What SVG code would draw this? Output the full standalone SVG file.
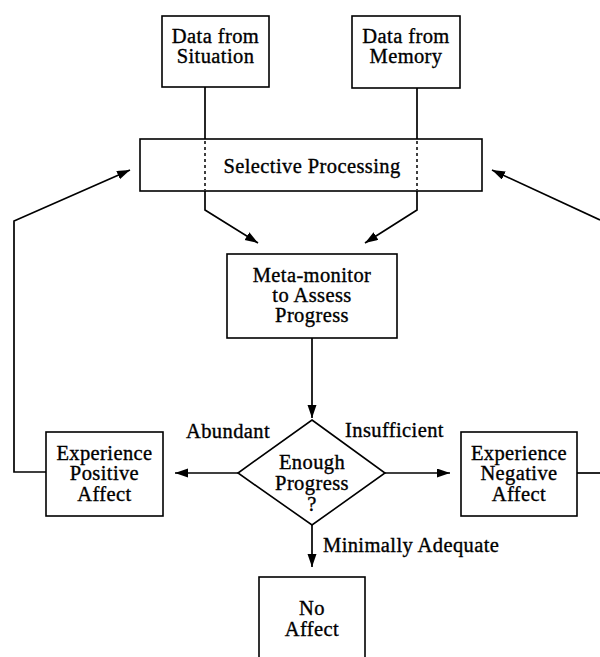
<svg xmlns="http://www.w3.org/2000/svg" width="600" height="657" viewBox="0 0 600 657">
<style>
.box{fill:#fff;stroke:#000;stroke-width:1.6}
.t{font-family:"Liberation Serif","Times New Roman",serif;font-size:20.5px;letter-spacing:0.4px;fill:#000;stroke:#000;stroke-width:0.35;text-anchor:middle}
.lbl{font-family:"Liberation Serif","Times New Roman",serif;font-size:20.5px;letter-spacing:0.4px;fill:#000;stroke:#000;stroke-width:0.35}
.c{fill:none;stroke:#000;stroke-width:1.7}
.d{fill:none;stroke:#000;stroke-width:1.5;stroke-dasharray:3 3}
</style>
<defs>
<marker id="ah" markerUnits="userSpaceOnUse" markerWidth="14" markerHeight="10" refX="13" refY="4.5" orient="auto">
<path d="M0,0 L13,4.5 L0,9 z" fill="#000"/>
</marker>
</defs>
<g id="situation">
<rect class="box" x="162" y="16" width="107" height="71"/>
<text class="t" x="215.5" y="43">Data from</text>
<text class="t" x="215.5" y="63">Situation</text>
</g>
<g id="memory">
<rect class="box" x="352" y="16" width="108" height="72"/>
<text class="t" x="406" y="43">Data from</text>
<text class="t" x="406" y="63">Memory</text>
</g>
<g id="selective">
<rect class="box" x="140" y="139" width="342" height="52"/>
<text class="t" x="312" y="173">Selective Processing</text>
</g>
<g id="metamonitor">
<rect class="box" x="227" y="254" width="170" height="84"/>
<text class="t" x="312" y="282">Meta-monitor</text>
<text class="t" x="312" y="302">to Assess</text>
<text class="t" x="312" y="322">Progress</text>
</g>
<g id="decision">
<polygon class="box" points="312,420 385,473 312,525 238,473"/>
<text class="t" x="312" y="469">Enough</text>
<text class="t" x="312" y="490">Progress</text>
<text class="t" x="312" y="511">?</text>
</g>
<g id="positive">
<rect class="box" x="46" y="432" width="117" height="84"/>
<text class="t" x="104.5" y="460">Experience</text>
<text class="t" x="104.5" y="480">Positive</text>
<text class="t" x="104.5" y="501">Affect</text>
</g>
<g id="negative">
<rect class="box" x="461" y="432" width="116" height="84"/>
<text class="t" x="519" y="460">Experience</text>
<text class="t" x="519" y="480">Negative</text>
<text class="t" x="519" y="501">Affect</text>
</g>
<g id="noaffect">
<rect class="box" x="259" y="577" width="106" height="90"/>
<text class="t" x="312" y="615">No</text>
<text class="t" x="312" y="636">Affect</text>
</g>
<g id="connectors">
<path class="c" d="M205 87 V139"/>
<path class="d" d="M205 141 V190"/>
<path class="c" d="M205 191 V210 L258 243" marker-end="url(#ah)"/>
<path class="c" d="M417 88 V139"/>
<path class="d" d="M417 141 V190"/>
<path class="c" d="M417 191 V210 L365 243" marker-end="url(#ah)"/>
<path class="c" d="M312 338 V418" marker-end="url(#ah)"/>
<path class="c" d="M238 473 H175" marker-end="url(#ah)"/>
<path class="c" d="M385 473 H450" marker-end="url(#ah)"/>
<path class="c" d="M312 525 V567" marker-end="url(#ah)"/>
<path class="c" d="M46 472 H14 V221 L130 170" marker-end="url(#ah)"/>
<path class="c" d="M577 473 H600"/>
<path class="c" d="M600 220 L492 170" marker-end="url(#ah)"/>
<text class="lbl" x="186" y="438">Abundant</text>
<text class="lbl" x="345" y="437">Insufficient</text>
<text class="lbl" x="323" y="552">Minimally Adequate</text>
</g>
</svg>
